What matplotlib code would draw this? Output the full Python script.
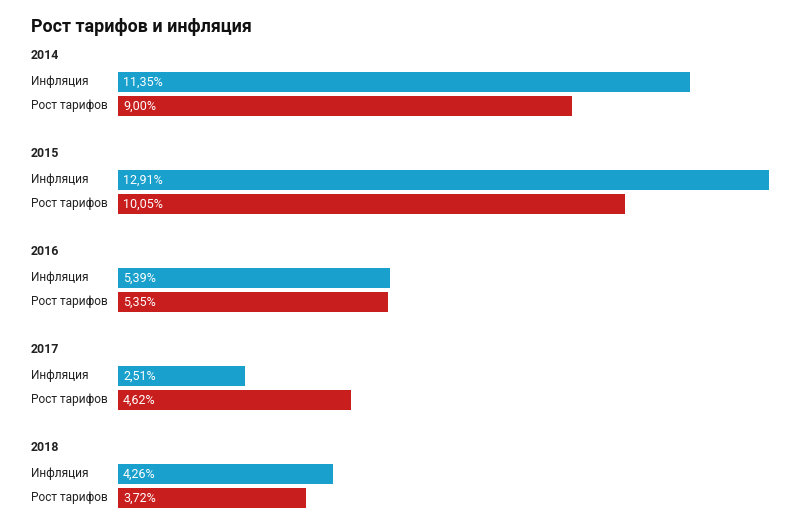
import matplotlib
matplotlib.use('Agg')
import matplotlib.pyplot as plt

# data
years = ["2014", "2015", "2016", "2017", "2018"]
inflation = [11.35, 12.91, 5.39, 2.51, 4.26]
tariffs = [9.00, 10.05, 5.35, 4.62, 3.72]
series_names = ["Инфляция", "Рост тарифов"]

BLUE = "#1aa0cc"
RED = "#c91e1e"

plt.rcParams['font.family'] = ['Roboto', 'DejaVu Sans']

W, H = 799, 525
fig = plt.figure(figsize=(W / 100, H / 100), dpi=100)
ax = fig.add_axes([0, 0, 1, 1])

# pixel layout: value 0 at x=118, 12.91 at x=769
x0 = 118
px_per_unit = (769 - 118) / 12.91
ax.set_xlim(-x0 / px_per_unit, (W - x0) / px_per_unit)
ax.set_ylim(H, 0)
ax.axis('off')

group_step = 98
year_y0 = 55
bar_h = 20

def fmt(v):
    return f"{v:.2f}%".replace(".", ",")

label_x = -(x0 - 31) / px_per_unit
text_pad = 5 / px_per_unit

ax.text(label_x, 26.5, "Рост тарифов и инфляция", fontsize=12.9, fontweight='bold',
        color='#111111', ha='left', va='center')

for i, year in enumerate(years):
    yy = year_y0 + i * group_step
    ax.text(label_x, yy + 0.5, year, fontsize=8.9, fontweight='bold', color='#222222',
            ha='left', va='center')
    rows = [(inflation[i], BLUE, yy + 27), (tariffs[i], RED, yy + 51)]
    for (val, col, yc), name in zip(rows, series_names):
        ax.barh(yc, val, height=bar_h, left=0, color=col)
        ax.text(label_x, yc - 0.5, name, fontsize=8.6, color='#222222',
                ha='left', va='center')
        ax.text(text_pad, yc + 0.5, fmt(val), fontsize=9, color='white',
                ha='left', va='center')

fig.savefig("out.png", dpi=100)
